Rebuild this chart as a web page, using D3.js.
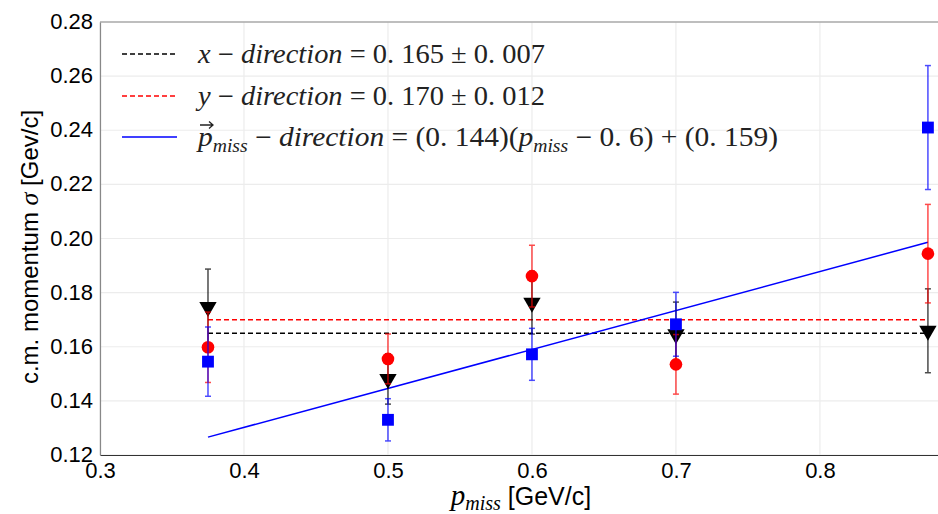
<!DOCTYPE html>
<meta charset="utf-8">
<script src="https://d3js.org/d3.v7.min.js"></script>
<body style="margin:0;background:#fff">
<svg width="938" height="514"></svg>
<style>
text { font-family: 'Liberation Sans', Arial, sans-serif; }
.tick text { font-size: 22px; fill: #000; }
.leg { font-family: 'Liberation Serif', 'DejaVu Serif', serif; font-size: 27px; fill: #222; }
</style>
<script>
// data
const pMiss = [0.375, 0.5, 0.6, 0.7, 0.875];
const xDir  = [0.1747, 0.1481, 0.1763, 0.1646, 0.1659];
const xErr  = [0.0140, 0.0093, 0.0116, 0.0119, 0.0155];
const yDir  = [0.1598, 0.1555, 0.1861, 0.1535, 0.1944];
const yErr  = [0.0130, 0.0092, 0.0114, 0.0110, 0.0182];
const pDir  = [0.1545, 0.1330, 0.1572, 0.1683, 0.2410];
const pErr  = [0.0128, 0.0078, 0.0096, 0.0118, 0.0229];
const xMean = 0.165, yMean = 0.170;
const fitSlope = 0.144, fitX0 = 0.6, fitC = 0.159;
const xTicks = [0.3, 0.4, 0.5, 0.6, 0.7, 0.8];
const yTicks = [0.12, 0.14, 0.16, 0.18, 0.20, 0.22, 0.24, 0.26, 0.28];

var margin = {left: 100, top: 22, right: 0, bottom: 59},
    W = 938, H = 514,
    w = W - margin.left - margin.right,
    h = H - margin.top - margin.bottom;

var svg = d3.select('svg');
var g = svg.append('g').attr('transform', `translate(${margin.left},${margin.top})`);

var x = d3.scaleLinear().domain([0.3, 0.882]).range([0, w]);
var y = d3.scaleLinear().domain([0.12, 0.28]).range([h, 0]);

// grid
g.selectAll('line.gx').data(xTicks).enter().append('line')
    .attr('x1', d => x(d)).attr('x2', d => x(d)).attr('y1', 0).attr('y2', h)
    .attr('stroke', '#ececec').attr('stroke-width', 1.2);
g.selectAll('line.gy').data(yTicks).enter().append('line')
    .attr('y1', d => y(d)).attr('y2', d => y(d)).attr('x1', 0).attr('x2', w)
    .attr('stroke', '#ececec').attr('stroke-width', 1.2);

// axes
var xAxis = g.append('g').attr('transform', `translate(0,${h})`)
    .call(d3.axisBottom(x).tickValues(xTicks).tickSize(0).tickPadding(5).tickFormat(d3.format('.1f')));
xAxis.select('.domain').attr('stroke', '#333').attr('stroke-width', 1.2);
var yAxis = g.append('g')
    .call(d3.axisLeft(y).tickValues(yTicks).tickSize(0).tickPadding(7).tickFormat(d3.format('.2f')));
yAxis.select('.domain').attr('stroke', '#888').attr('stroke-width', 1.2);
xAxis.selectAll('.tick text').attr('dy', '0.8em');
yAxis.selectAll('.tick text').attr('dy', '0.3em');
g.append('line').attr('x1', 0).attr('x2', w).attr('y1', 0).attr('y2', 0)
    .attr('stroke', '#888').attr('stroke-width', 1.2);

// mean lines
var lo = d3.min(pMiss), hi = d3.max(pMiss);
g.append('line').attr('x1', x(lo)).attr('x2', x(hi)).attr('y1', y(xMean)).attr('y2', y(xMean))
    .attr('stroke', '#000').attr('stroke-width', 1.6).attr('stroke-dasharray', '5,3');
g.append('line').attr('x1', x(lo)).attr('x2', x(hi)).attr('y1', y(yMean)).attr('y2', y(yMean))
    .attr('stroke', 'red').attr('stroke-width', 1.6).attr('stroke-dasharray', '5,3');

// fit line
var fit = [lo, hi].map(p => [p, fitSlope * (p - fitX0) + fitC]);
g.append('path').datum(fit)
    .attr('d', d3.line().x(d => x(d[0])).y(d => y(d[1])))
    .attr('stroke', 'blue').attr('stroke-width', 1.5).attr('fill', 'none');

function series(vals, errs, color, sym, size){
    var data = pMiss.map((p, i) => ({p: p, v: vals[i], e: errs[i]}));
    var s = g.append('g');
    var eb = s.selectAll('g').data(data).enter().append('g')
        .attr('stroke', color).attr('stroke-width', 1.5).attr('opacity', 0.7);
    eb.append('line').attr('x1', d => x(d.p)).attr('x2', d => x(d.p))
        .attr('y1', d => y(d.v - d.e)).attr('y2', d => y(d.v + d.e));
    eb.append('line').attr('x1', d => x(d.p) - 3).attr('x2', d => x(d.p) + 3)
        .attr('y1', d => y(d.v - d.e)).attr('y2', d => y(d.v - d.e));
    eb.append('line').attr('x1', d => x(d.p) - 3).attr('x2', d => x(d.p) + 3)
        .attr('y1', d => y(d.v + d.e)).attr('y2', d => y(d.v + d.e));
    s.selectAll('path.m').data(data).enter().append('path')
        .attr('d', d3.symbol().type(sym).size(size))
        .attr('transform', d => `translate(${x(d.p)},${y(d.v)})` + (sym === d3.symbolTriangle ? ' rotate(180)' : ''))
        .attr('fill', color);
}
series(xDir, xErr, '#000', d3.symbolTriangle, 130);
series(yDir, yErr, 'red', d3.symbolCircle, 125);
series(pDir, pErr, 'blue', d3.symbolSquare, 140);

// axis labels
var yl = svg.append('text').attr('transform', 'translate(38,247) rotate(-90)')
    .attr('text-anchor', 'middle').attr('font-size', 24);
yl.append('tspan').text('c.m. momentum ');
yl.append('tspan').attr('font-family', 'Liberation Serif, serif').attr('font-style', 'italic').attr('font-size', 26).text('σ');
yl.append('tspan').text(' [Gev/c]');

var xl = svg.append('text').attr('x', 521).attr('y', 505).attr('text-anchor', 'middle').attr('font-size', 25);
xl.append('tspan').attr('font-family', 'Liberation Serif, serif').attr('font-style', 'italic').attr('font-size', 29).text('p');
xl.append('tspan').attr('font-family', 'Liberation Serif, serif').attr('font-style', 'italic').attr('font-size', 20).attr('dy', 5).text('miss');
xl.append('tspan').attr('dy', -5).text(' [GeV/c]');

// legend
var legRows = [
    {stroke: '#000', dash: '5,3', y: 54},
    {stroke: 'red', dash: '5,3', y: 96},
    {stroke: 'blue', dash: null, y: 137}
];
legRows.forEach(r => {
    svg.append('line').attr('x1', 122).attr('x2', 177).attr('y1', r.y).attr('y2', r.y)
        .attr('stroke', r.stroke).attr('stroke-width', 1.5).attr('stroke-dasharray', r.dash);
});
function mathText(yy, len, parts){
    var t = svg.append('text').attr('class', 'leg').attr('x', 198).attr('y', yy + 9)
        .attr('textLength', len).attr('lengthAdjust', 'spacingAndGlyphs');
    parts.forEach(p => {
        var ts = t.append('tspan').text(p[0]);
        if (p[1] === 'i') ts.attr('font-style', 'italic');
        if (p[1] === 's') ts.attr('font-style', 'italic').attr('font-size', 18).attr('dy', 6);
        if (p[1] === 'u') ts.attr('dy', -6);
    });
    return t;
}
mathText(54, 347, [['x', 'i'], [' − '], ['direction', 'i'], [' = 0. 165 ± 0. 007']]);
mathText(96, 347, [['y', 'i'], [' − '], ['direction', 'i'], [' = 0. 170 ± 0. 012']]);
mathText(137, 580, [['p', 'i'], ['miss', 's'], [' − ', 'u'], ['direction', 'i'], [' = (0. 144)('], ['p', 'i'], ['miss', 's'], [' − 0. 6) + (0. 159)', 'u']]);
// vector arrow over p
svg.append('path').attr('d', 'M200,125 L213,125 M209,121.5 L213,125 L209,128.5')
    .attr('stroke', '#222').attr('stroke-width', 1.3).attr('fill', 'none');
</script>
</body>
